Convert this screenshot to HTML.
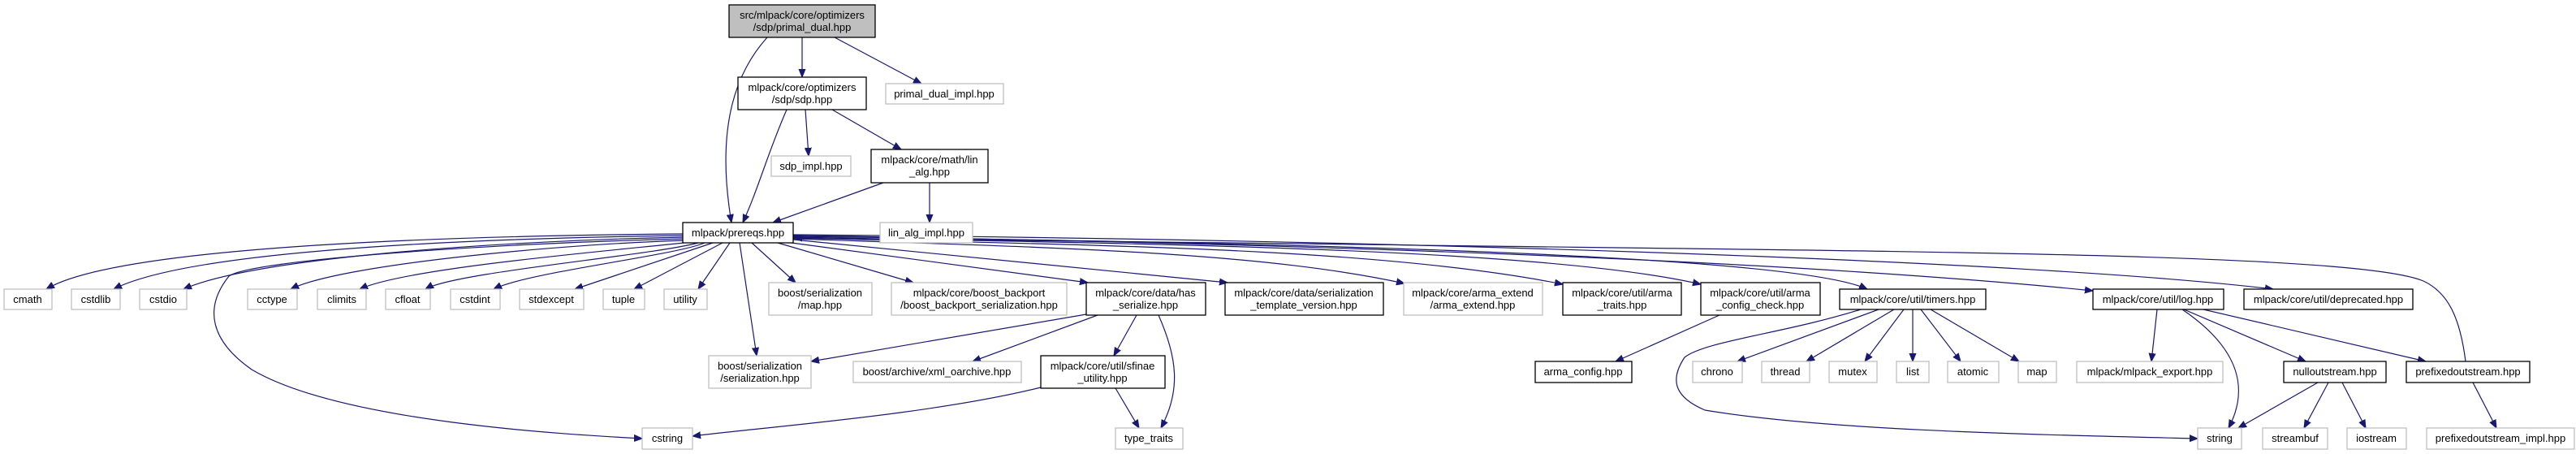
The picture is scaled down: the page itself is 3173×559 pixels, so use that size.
<!DOCTYPE html>
<html><head><meta charset="utf-8">
<style>
html,body{margin:0;padding:0;background:#fff;}
svg{display:block;}
text{font-family:"Liberation Sans",Arial,sans-serif;font-size:13px;fill:#000;text-anchor:middle;}
.g{fill:#fff;stroke:#bfbfbf;stroke-width:1.3;}
.b{fill:#fff;stroke:#000;stroke-width:1.3;}
.e{fill:none;stroke:#191970;stroke-width:1.2;}
</style></head>
<body>
<svg width="3173" height="559" viewBox="0 0 3173 559" xmlns="http://www.w3.org/2000/svg">
<defs>
<marker id="a" viewBox="0 0 10 10" refX="10" refY="5" markerWidth="10" markerHeight="10" markerUnits="userSpaceOnUse" orient="auto">
<path d="M0,1 L10,5 L0,9 z" fill="#191970" stroke="#191970"/>
</marker>
</defs>
<g marker-end="url(#a)">
<!-- top -->
<path class="e" d="M945,46 C910,85 880,150 901,274"/>
<path class="e" d="M988,46 L988,95"/>
<path class="e" d="M1028,46 L1135,103"/>
<path class="e" d="M969,135 C945,190 935,230 915,274"/>
<path class="e" d="M992,135 L996,192"/>
<path class="e" d="M1025,135 L1110,184"/>
<path class="e" d="M1088,225 L952,274"/>
<path class="e" d="M1145,225 L1145,274"/>
<!-- prereqs left -->
<path class="e" d="M843,288 C600,290 150,300 57,356"/>
<path class="e" d="M843,290 C620,293 240,305 140,356"/>
<path class="e" d="M843,292 C640,296 320,315 226,356"/>
<path class="e" d="M846,296 C700,300 420,325 358,356"/>
<path class="e" d="M852,298 C740,310 500,330 443,356"/>
<path class="e" d="M860,299 C800,315 560,335 524,356"/>
<path class="e" d="M868,299 C830,315 650,335 608,356"/>
<path class="e" d="M878,299 L708,356"/>
<path class="e" d="M890,299 L781,356"/>
<path class="e" d="M899,299 L860,356"/>
<path class="e" d="M843,294 C600,300 310,320 282,340 C250,380 260,420 310,455 C420,520 700,535 791,540"/>
<path class="e" d="M911,299 L932,438"/>
<!-- prereqs right -->
<path class="e" d="M926,299 L980,348"/>
<path class="e" d="M958,299 L1125,348"/>
<path class="e" d="M975,299 L1340,348"/>
<path class="e" d="M977,295 L1512,348"/>
<path class="e" d="M977,294 C1300,305 1550,310 1730,349"/>
<path class="e" d="M977,293 C1350,302 1700,305 1925,350"/>
<path class="e" d="M977,292 C1400,300 1900,305 2095,350"/>
<path class="e" d="M977,291 C1500,298 2200,310 2300,356"/>
<path class="e" d="M977,290 C1600,300 2200,320 2578,358"/>
<path class="e" d="M977,289 C1700,295 2500,320 2800,356"/>
<!-- has_serialize -->
<path class="e" d="M1338,387 L999,445"/>
<path class="e" d="M1352,388 L1198,445"/>
<path class="e" d="M1400,388 L1372,438"/>
<path class="e" d="M1427,388 C1450,440 1455,480 1430,527"/>
<path class="e" d="M1282,477 C1150,510 950,525 853,537"/>
<path class="e" d="M1374,478 L1403,527"/>
<!-- arma config -->
<path class="e" d="M2118,388 L1990,445"/>
<!-- timers -->
<path class="e" d="M2292,381 C2200,410 2100,420 2075,440 C2055,470 2065,490 2100,505 C2250,530 2500,535 2707,540"/>
<path class="e" d="M2314,381 L2140,445"/>
<path class="e" d="M2333,381 L2225,445"/>
<path class="e" d="M2345,381 L2297,445"/>
<path class="e" d="M2356,381 L2356,445"/>
<path class="e" d="M2366,381 L2415,445"/>
<path class="e" d="M2378,381 L2487,445"/>
<!-- log -->
<path class="e" d="M2657,381 L2650,445"/>
<path class="e" d="M2688,381 C2760,430 2770,480 2745,527"/>
<path class="e" d="M2690,381 L2840,445"/>
<path class="e" d="M2714,381 L2988,445"/>
<!-- nulloutstream -->
<path class="e" d="M2855,471 L2757,527"/>
<path class="e" d="M2868,471 L2838,527"/>
<path class="e" d="M2885,471 L2914,527"/>
<path class="e" d="M3046,471 L3075,527"/>
<!-- prefixed -> prereqs -->
<path class="e" d="M3037,445 C3030,390 3015,360 2985,346 C2900,310 2300,310 1600,300 C1300,296 1100,294 978,293"/>
</g>

<!-- nodes -->
<rect x="898" y="6" width="180" height="40" fill="#bfbfbf" stroke="#000" stroke-width="1.3"/>
<text x="988" y="23">src/mlpack/core/optimizers</text><text x="988" y="38">/sdp/primal_dual.hpp</text>
<rect class="b" x="909" y="95" width="158" height="40"/><text x="988" y="112">mlpack/core/optimizers</text><text x="988" y="127">/sdp/sdp.hpp</text>
<rect class="g" x="1091" y="103" width="145" height="25"/><text x="1163" y="120">primal_dual_impl.hpp</text>
<rect class="g" x="950" y="192" width="98" height="25"/><text x="999" y="209">sdp_impl.hpp</text>
<rect class="b" x="1073" y="184" width="144" height="41"/><text x="1145" y="201">mlpack/core/math/lin</text><text x="1145" y="216">_alg.hpp</text>
<rect class="b" x="841" y="274" width="136" height="25"/><text x="909" y="291">mlpack/prereqs.hpp</text>
<rect class="g" x="1084" y="274" width="114" height="25"/><text x="1141" y="291">lin_alg_impl.hpp</text>

<rect class="g" x="5" y="356" width="59" height="25"/><text x="34" y="373">cmath</text>
<rect class="g" x="88" y="356" width="60" height="25"/><text x="118" y="373">cstdlib</text>
<rect class="g" x="172" y="356" width="58" height="25"/><text x="201" y="373">cstdio</text>
<rect class="g" x="305" y="356" width="61" height="25"/><text x="335" y="373">cctype</text>
<rect class="g" x="391" y="356" width="60" height="25"/><text x="421" y="373">climits</text>
<rect class="g" x="475" y="356" width="55" height="25"/><text x="502" y="373">cfloat</text>
<rect class="g" x="555" y="356" width="61" height="25"/><text x="585" y="373">cstdint</text>
<rect class="g" x="640" y="356" width="79" height="25"/><text x="679" y="373">stdexcept</text>
<rect class="g" x="743" y="356" width="51" height="25"/><text x="768" y="373">tuple</text>
<rect class="g" x="818" y="356" width="53" height="25"/><text x="844" y="373">utility</text>
<rect class="g" x="947" y="348" width="127" height="40"/><text x="1010" y="365">boost/serialization</text><text x="1010" y="380">/map.hpp</text>
<rect class="g" x="1098" y="348" width="216" height="40"/><text x="1206" y="365">mlpack/core/boost_backport</text><text x="1206" y="380">/boost_backport_serialization.hpp</text>
<rect class="b" x="1338" y="348" width="147" height="40"/><text x="1411" y="365">mlpack/core/data/has</text><text x="1411" y="380">_serialize.hpp</text>
<rect class="b" x="1509" y="348" width="195" height="40"/><text x="1606" y="365">mlpack/core/data/serialization</text><text x="1606" y="380">_template_version.hpp</text>
<rect class="g" x="1729" y="348" width="171" height="40"/><text x="1814" y="365">mlpack/core/arma_extend</text><text x="1814" y="380">/arma_extend.hpp</text>
<rect class="b" x="1925" y="348" width="146" height="40"/><text x="1998" y="365">mlpack/core/util/arma</text><text x="1998" y="380">_traits.hpp</text>
<rect class="b" x="2095" y="348" width="147" height="40"/><text x="2168" y="365">mlpack/core/util/arma</text><text x="2168" y="380">_config_check.hpp</text>
<rect class="b" x="2266" y="356" width="180" height="25"/><text x="2356" y="373">mlpack/core/util/timers.hpp</text>
<rect class="b" x="2578" y="356" width="161" height="25"/><text x="2658" y="373">mlpack/core/util/log.hpp</text>
<rect class="b" x="2764" y="356" width="208" height="25"/><text x="2868" y="373">mlpack/core/util/deprecated.hpp</text>

<rect class="g" x="873" y="438" width="126" height="40"/><text x="936" y="455">boost/serialization</text><text x="936" y="470">/serialization.hpp</text>
<rect class="g" x="1051" y="445" width="207" height="26"/><text x="1154" y="462">boost/archive/xml_oarchive.hpp</text>
<rect class="b" x="1282" y="438" width="153" height="40"/><text x="1358" y="455">mlpack/core/util/sfinae</text><text x="1358" y="470">_utility.hpp</text>
<rect class="b" x="1891" y="445" width="119" height="26"/><text x="1950" y="462">arma_config.hpp</text>
<rect class="g" x="2085" y="445" width="61" height="26"/><text x="2115" y="462">chrono</text>
<rect class="g" x="2170" y="445" width="59" height="26"/><text x="2199" y="462">thread</text>
<rect class="g" x="2253" y="445" width="59" height="26"/><text x="2282" y="462">mutex</text>
<rect class="g" x="2336" y="445" width="40" height="26"/><text x="2356" y="462">list</text>
<rect class="g" x="2399" y="445" width="63" height="26"/><text x="2430" y="462">atomic</text>
<rect class="g" x="2486" y="445" width="47" height="26"/><text x="2509" y="462">map</text>
<rect class="g" x="2558" y="445" width="180" height="26"/><text x="2648" y="462">mlpack/mlpack_export.hpp</text>
<rect class="b" x="2813" y="445" width="126" height="26"/><text x="2876" y="462">nulloutstream.hpp</text>
<rect class="b" x="2964" y="445" width="152" height="26"/><text x="3040" y="462">prefixedoutstream.hpp</text>

<rect class="g" x="791" y="527" width="62" height="26"/><text x="822" y="544">cstring</text>
<rect class="g" x="1374" y="527" width="83" height="26"/><text x="1415" y="544">type_traits</text>
<rect class="g" x="2707" y="527" width="54" height="26"/><text x="2734" y="544">string</text>
<rect class="g" x="2787" y="527" width="80" height="26"/><text x="2827" y="544">streambuf</text>
<rect class="g" x="2891" y="527" width="73" height="26"/><text x="2927" y="544">iostream</text>
<rect class="g" x="2989" y="527" width="182" height="26"/><text x="3080" y="544">prefixedoutstream_impl.hpp</text>
</svg>
</body></html>
